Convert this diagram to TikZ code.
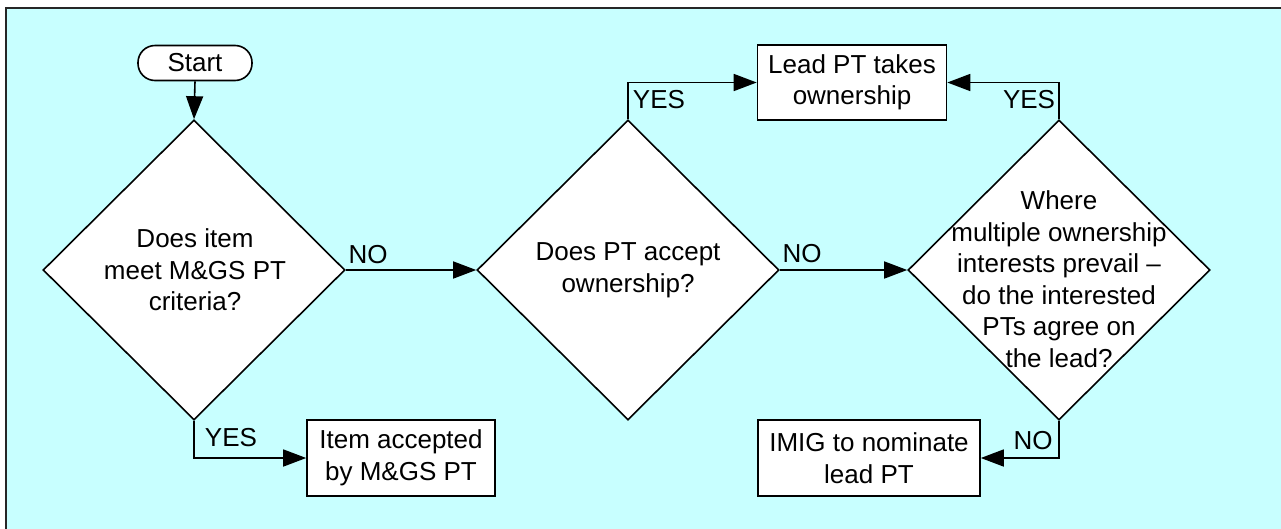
\documentclass[tikz,border=0pt]{standalone}
\usepackage{fontspec}
\setmainfont{Liberation Sans}
\usetikzlibrary{shapes.geometric,arrows.meta}
\definecolor{bgcyan}{RGB}{200,255,255}
\tikzset{
  lbl/.style={font=\fontsize{26}{31.5}\selectfont, inner sep=0pt, align=center},
  dia/.style={draw=black, line width=1.6pt, fill=white, shape=diamond, aspect=1, inner sep=0pt, minimum width=302pt, minimum height=300pt},
  box/.style={draw=black, line width=1.6pt, fill=white, inner sep=0pt},
  conn/.style={line width=1.6pt, -{Triangle[length=23pt,width=17pt]}}
}
\begin{document}
\begin{tikzpicture}[x=1pt,y=-1pt]
\useasboundingbox (0,0) rectangle (1281,528);
\fill[white] (0,0) rectangle (1281,528);
\draw[line width=2.5pt, draw=black!85, fill=bgcyan] (6,8) rectangle (1300,560);
% nodes
\node[box, rounded corners=17pt, minimum width=114pt, minimum height=35pt] (start) at (195,63) {};
\node[lbl] at (start) {Start};
\node[dia] (d1) at (194,270) {};
\node[lbl] at (195,270) {Does item\\meet M\&GS PT\\criteria?};
\node[dia] (d2) at (628,270) {};
\node[lbl] at (628,270) {Does PT accept\\ownership?};
\node[dia] (d3) at (1059,270) {};
\node[lbl] at (1059,279) {Where\\multiple ownership\\interests prevail --\\do the interested\\PTs agree on\\the lead?};
\node[box, minimum width=189pt, minimum height=75pt] (lead) at (852,82.5) {};
\node[lbl] at (lead) {Lead PT takes\\ownership};
\node[box, minimum width=188pt, minimum height=76pt] (item) at (401,458) {};
\node[lbl] at (item) {Item accepted\\by M\&GS PT};
\node[box, minimum width=222pt, minimum height=76pt] (imig) at (869,458) {};
\node[lbl] at (imig) {IMIG to nominate\\lead PT};
% connectors
\draw[conn] (start.south) -- (d1.north);
\draw[conn] (d1.east) -- (d2.west);
\draw[conn] (d2.east) -- (d3.west);
\draw[conn] (d2.north) |- (lead.west);
\draw[conn] (d3.north) |- (lead.east);
\draw[conn] (d1.south) |- (item.west);
\draw[conn] (d3.south) |- (imig.east);
% labels
\node[lbl] at (368,255) {NO};
\node[lbl] at (802,254) {NO};
\node[lbl] at (659,100) {YES};
\node[lbl] at (1029,100) {YES};
\node[lbl] at (231,438) {YES};
\node[lbl] at (1033,441) {NO};
\end{tikzpicture}
\end{document}
